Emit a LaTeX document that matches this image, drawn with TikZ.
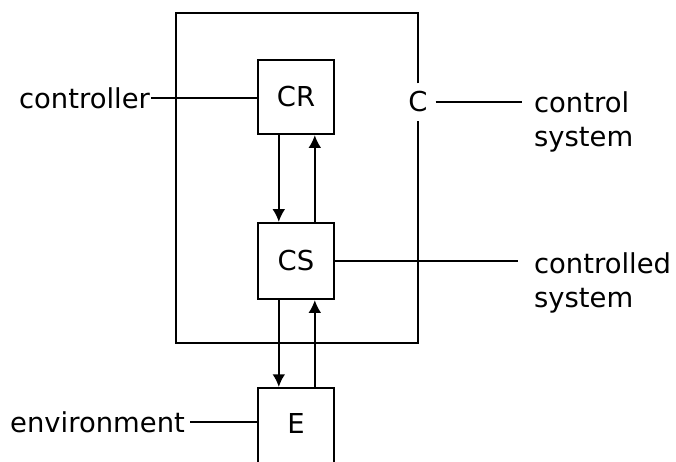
\documentclass[tikz,border=0pt]{standalone}
\usepackage{fontspec}
\setmainfont{DejaVu Sans}
\usetikzlibrary{arrows.meta, positioning, calc}
\tikzset{
  every picture/.style={line width=1.6pt},
  box/.style={draw, inner sep=0pt, minimum width=1.9cm, minimum height=1.85cm, font=\fontsize{19.5}{23.5}\selectfont},
  arrow/.style={-{Latex[length=9pt, width=9pt]}, line width=1.3pt},
  lbl/.style={font=\fontsize{19.5}{23.5}\selectfont, align=left, inner sep=0pt},
}

\begin{document}
\begin{tikzpicture}[x=0.025cm, y=-0.025cm]
  \clip (0,0) rectangle (676,461);
  % blocks
  \node[box] (CR) at (296,97) {CR};
  \node[box, minimum height=1.9cm] (CS) at (296,261) {CS};
  \node[box, minimum height=3cm, anchor=north] (Ebox) at (296,387) {};
  \node[lbl] (E) at (Ebox.north |- 0,423) {E};
  % control system C round CR and CS
  \node[lbl, inner sep=5pt] (C) at (418,102) {C};
  \draw (C.north) |- (176,13) |- (418,343) -- (C.south);
  % signals between the blocks
  \foreach \hi/\lo in {CR/CS, CS/Ebox}{
    \draw[arrow] ([xshift=-0.43cm]\hi.south) -- ([xshift=-0.43cm]\lo.north);
    \draw[arrow] ([xshift=0.47cm]\lo.north) -- ([xshift=0.47cm]\hi.south);
  }
  % names
  \node[lbl, anchor=east] (controller) at (151,98) {controller};
  \node[lbl, anchor=east] (env) at (186,422) {environment};
  \node[lbl, anchor=north west] (ctrlsys) at (533,91) {control\\system};
  \node[lbl, anchor=north west] (csys) at (533,252) {controlled\\system};
  \draw (controller.east) -- (controller.east -| CR.west);
  \draw (C.east) -- ($(C.east -| ctrlsys.west)+(-11,0)$);
  \draw (CS.east) -- ($(CS.east -| csys.west)+(-15,0)$);
  \draw ($(env.east)+(4,0)$) -- (env.east -| Ebox.west);
\end{tikzpicture}
\end{document}
